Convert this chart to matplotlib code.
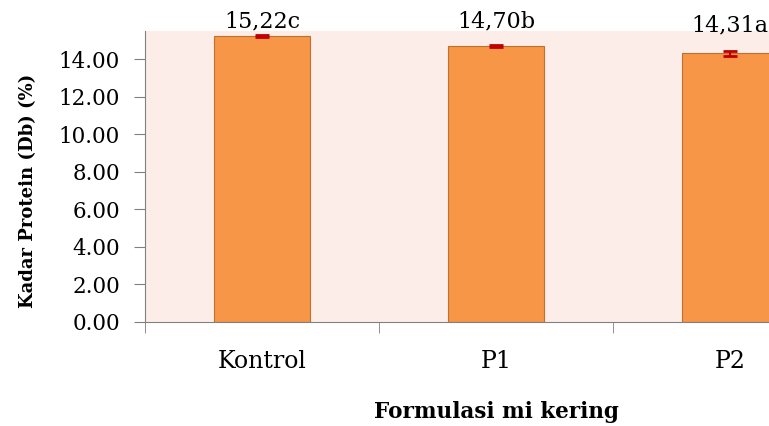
import matplotlib.pyplot as plt
import numpy as np

# Kadar protein mi kering per formulasi
categories = ['Kontrol', 'P1', 'P2']
protein = [15.22, 14.70, 14.31]
errors = [0.05, 0.04, 0.12]
labels = ['15,22c', '14,70b', '14,31a']

plt.rcParams['font.family'] = 'DejaVu Serif'

fig = plt.figure(figsize=(7.69, 4.26), dpi=100)
# plot area runs past the right edge, like the cropped original
ax = fig.add_axes([145 / 769, 104 / 426, 702 / 769, 291 / 426])
ax.set_facecolor('#FCEDE8')

x = np.arange(len(categories))
bars = ax.bar(x, protein, width=0.41, color='#F79646', edgecolor='#C0702E', linewidth=0.8)
ax.errorbar(x, protein, yerr=errors, fmt='none', ecolor='#C00000', elinewidth=1.5,
            capsize=5, capthick=2)

label_offsets = [3, 10, 12]
for xi, val, lab, off in zip(x, protein, labels, label_offsets):
    ax.annotate(lab, (xi, val), xytext=(0, off), textcoords='offset points',
                ha='center', va='bottom', fontsize=16, annotation_clip=False)

ax.set_xlim(-0.5, 2.5)
ax.set_ylim(0, 15.5)
ax.set_yticks(np.arange(0, 15, 2))
ax.set_yticklabels([f'{v:.2f}' for v in np.arange(0, 15, 2)])

ax.set_xticks(x)
ax.set_xticklabels(categories)
ax.set_xticks([-0.5, 0.5, 1.5, 2.5], minor=True)
ax.tick_params(axis='x', which='major', length=0, pad=20, labelsize=17)
ax.tick_params(axis='x', which='minor', length=8, color='#808080', direction='out')
ax.tick_params(axis='y', length=8, color='#808080', direction='out', labelsize=15.5, pad=10)

for side in ['top', 'right']:
    ax.spines[side].set_visible(False)
for side in ['left', 'bottom']:
    ax.spines[side].set_color('#808080')

ax.set_ylabel('Kadar Protein (Db) (%)', fontsize=13, fontweight='bold')
ax.yaxis.set_label_coords((37 - 145) / 702, 0.45)
ax.set_xlabel('Formulasi mi kering', fontsize=15.5, fontweight='bold')
ax.xaxis.set_label_coords((496 - 145) / 702, -0.27)

fig.savefig('out.png', dpi=100)
